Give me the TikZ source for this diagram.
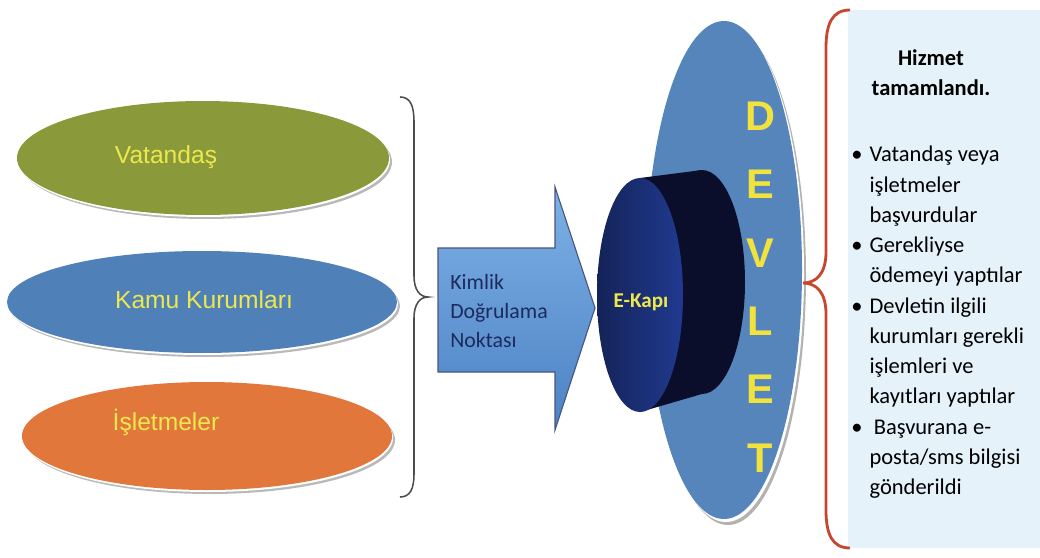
\documentclass[tikz,border=0pt]{standalone}
\usepackage{fontspec}
\setmainfont{Liberation Sans}
\newfontfamily\calibri{Carlito}
\usepackage{tikz}
\usetikzlibrary{calc,positioning}
\definecolor{oliveGreen}{HTML}{8A993A}
\definecolor{midBlue}{HTML}{4F80B8}
\definecolor{burntOrange}{HTML}{E2773C}
\definecolor{labelYellow}{HTML}{EDE84E}
\definecolor{stateYellow}{HTML}{F2E23E}
\definecolor{stateBlue}{HTML}{5585BB}
\definecolor{arrowTop}{HTML}{7DB1E6}
\definecolor{arrowBottom}{HTML}{4C82C4}
\definecolor{navyText}{HTML}{1D2A5C}
\definecolor{gateFront}{HTML}{2440A0}
\definecolor{gateSide}{HTML}{0A0E2A}
\definecolor{panelBlue}{HTML}{E6F2FA}
\definecolor{braceRed}{HTML}{C8462E}

\tikzset{
  discLabel/.style={text=labelYellow, font=\fontsize{17.5}{21}\selectfont, inner sep=0pt},
  panelText/.style={font=\calibri\fontsize{16}{21.5}\selectfont, text=black, inner sep=0pt},
}

\begin{document}
\begin{tikzpicture}[x=0.025cm, y=-0.025cm]
    \useasboundingbox (0,0) rectangle (1040,558);

    % three applicant discs, each with a white rim and a grey shadow
    \fill[gray!55] (206,162) ellipse [x radius=186, y radius=57];
    \fill[white]   (204,160) ellipse [x radius=186, y radius=57];
    \fill[oliveGreen] (203,158) ellipse [x radius=186, y radius=57];
    \node[discLabel] (citizen) at (166,157) {Vatandaş};

    \fill[gray!55] (205,306) ellipse [x radius=195, y radius=51];
    \fill[white]   (203,304) ellipse [x radius=195, y radius=51];
    \fill[midBlue] (202,302) ellipse [x radius=195, y radius=51];
    \node[discLabel] (publicInst) at (204,300) {Kamu Kurumları};

    \fill[gray!55] (210,440) ellipse [x radius=185, y radius=54];
    \fill[white]   (208,438) ellipse [x radius=185, y radius=54];
    \fill[burntOrange] (207,436) ellipse [x radius=185, y radius=54];
    \node[discLabel] (business) at (166,422) {İşletmeler};

    % brace gathering the applicants
    \draw[line width=1.1pt, black!70] (400,97) .. controls (410,97) and (414,105) .. (414,122) -- (414,276)
        .. controls (414,290) and (420,297) .. (428,297) .. controls (420,297) and (414,304) .. (414,318)
        -- (414,474) .. controls (414,489) and (410,497) .. (400,497);

    % identity check arrow
    \shade[top color=arrowTop, bottom color=arrowBottom, draw=navyText!80, line width=0.8pt]
        (438,248) -- (555,248) -- (555,187) -- (595,308) -- (555,430) -- (555,372) -- (438,372) -- cycle;
    \node[font=\calibri\fontsize{15.5}{20.5}\selectfont, text=navyText, align=left, anchor=west, inner sep=0pt]
        (idCheck) at (450,311) {Kimlik\\Doğrulama\\Noktası};

    % the state
    \fill[gray!60] (728,276) ellipse [x radius=78, y radius=249];
    \fill[white]   (726,273) ellipse [x radius=78, y radius=249];
    \fill[stateBlue] (724,270) ellipse [x radius=78, y radius=249];
    \node[text=stateYellow, font=\bfseries\fontsize{29.5}{48.6}\selectfont, align=center, inner sep=0pt]
        (state) at (760,287) {D\\E\\V\\L\\E\\T};

    % e-gate cylinder
    \fill[gateSide] (702,282) ellipse [x radius=43, y radius=112];
    \fill[gateSide] (640,178) -- (702,170) -- (702,394) -- (640,412) -- cycle;
    \shade[left color=gateFront!55!black, right color=gateFront!90!black] (640,295) ellipse [x radius=43, y radius=117];
    \node[text=labelYellow, font=\calibri\bfseries\fontsize{15}{18}\selectfont, inner sep=0pt]
        (eGate) at (641,302) {E-Kapı};

    % result panel
    \fill[panelBlue] (848,10) rectangle (1040,548);
    \draw[braceRed, line width=2pt] (850,10) .. controls (832,10) and (826,24) .. (826,48) -- (826,252)
        .. controls (826,274) and (816,283) .. (803,283) .. controls (816,283) and (826,292) .. (826,314)
        -- (826,510) .. controls (826,534) and (832,548) .. (850,548);

    \node[panelText, font=\calibri\bfseries\fontsize{16}{21.5}\selectfont, align=center]
        (done) at (931,73) {Hizmet\\tamamlandı.};
    \def\indnt{\hspace*{13pt}}
    \node[panelText, align=left, anchor=north west] (steps) at (851,146)
        {\makebox[13pt][l]{\textbullet}Vatandaş veya\\
         \indnt işletmeler\\
         \indnt başvurdular\\
         \makebox[13pt][l]{\textbullet}Gerekliyse\\
         \indnt ödemeyi yaptılar\\
         \makebox[13pt][l]{\textbullet}Devletin ilgili\\
         \indnt kurumları gerekli\\
         \indnt işlemleri ve\\
         \indnt kayıtları yaptılar\\
         \makebox[13pt][l]{\textbullet}\hspace{3pt}Başvurana e-\\
         \indnt posta/sms bilgisi\\
         \indnt gönderildi};
\end{tikzpicture}
\end{document}
